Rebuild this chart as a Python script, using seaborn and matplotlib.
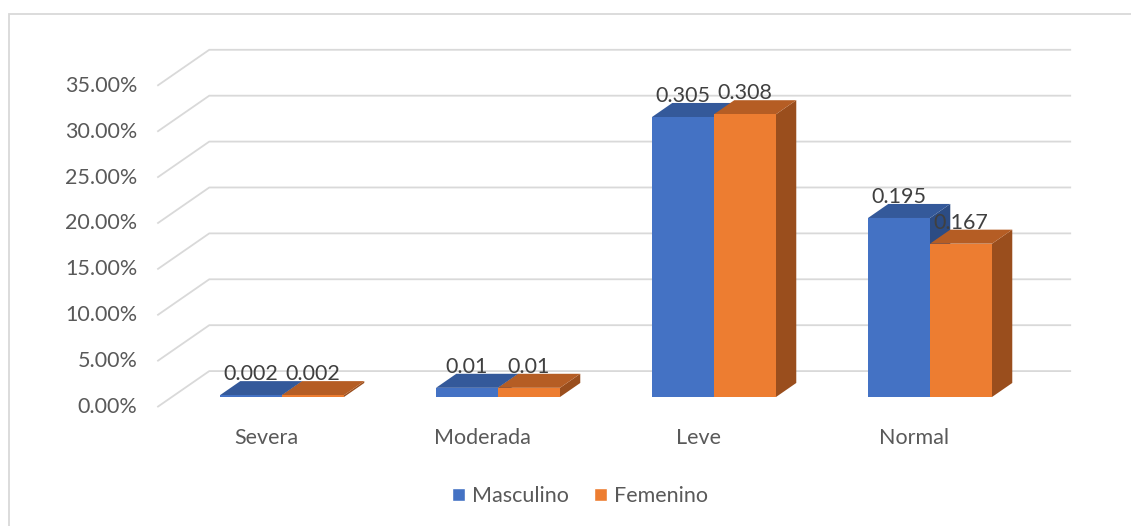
import numpy as np
import pandas as pd
import matplotlib
matplotlib.use("Agg")
import matplotlib.pyplot as plt
from matplotlib.patches import Polygon, Patch, Rectangle
import seaborn as sns

# ---- data -------------------------------------------------------------
categorias = ["Severa", "Moderada", "Leve", "Normal"]
masculino = [0.002, 0.01, 0.305, 0.195]
femenino = [0.002, 0.01, 0.308, 0.167]
series = ["Masculino", "Femenino"]
y_ticks = [0.0, 0.05, 0.10, 0.15, 0.20, 0.25, 0.30, 0.35]

# ---- style ------------------------------------------------------------
sns.set_style("white")
plt.rcParams["font.family"] = ["Lato", "DejaVu Sans"]

BLUE, ORANGE = "#4472C4", "#ED7D31"
TOP = {BLUE: "#34599A", ORANGE: "#B55D24"}
SIDE = {BLUE: "#2C4C84", ORANGE: "#9A4E1D"}
GRID = "#D9D9D9"
AXIS_TXT = "#595959"
LABEL_TXT = "#404040"
FS = 15.5

W, H = 1131, 526
fig = plt.figure(figsize=(W / 100, H / 100), dpi=100)
ax = fig.add_axes([150 / W, (H - 425) / H, 935 / W, 395 / H])

df = pd.DataFrame({
    "categoria": categorias * 2,
    "sexo": [series[0]] * len(categorias) + [series[1]] * len(categorias),
    "valor": masculino + femenino,
})

sns.barplot(data=df, x="categoria", y="valor", hue="sexo",
            palette=[BLUE, ORANGE], saturation=1, width=0.574,
            linewidth=0, legend=False, ax=ax)

ax.set_xlim((150 - 282) / 216, (1085 - 282) / 216)
ax.set_ylim((397 - 425) / 918, (397 - 30) / 918)
ax.set_axis_off()


def px_vec(dx, dy):
    """Convert a screen-space offset (pixels, y up) into data units."""
    inv = ax.transData.inverted()
    a = inv.transform((0, 0))
    b = inv.transform((dx, dy))
    return b - a


# oblique depth of the whole floor and of the bars
full = px_vec(52, 36)
front_frac, bar_frac = 0.28, 0.39
front_vec = -front_frac * full
back_vec = (1 - front_frac) * full
bar_vec = bar_frac * full

wall_left = -0.51
grid_right = 3.48

# ---- walls: gridlines and value axis labels --------------------------
for v in y_ticks:
    p_front = np.array([wall_left, v]) + front_vec
    p_back = np.array([wall_left, v]) + back_vec
    p_right = np.array([grid_right, v]) + back_vec
    ax.plot([p_front[0], p_back[0], p_right[0]],
            [p_front[1], p_back[1], p_right[1]],
            color=GRID, lw=1.3, zorder=1, solid_capstyle="butt",
            clip_on=False)
    ax.annotate(f"{v * 100:.2f}%", xy=p_front, xytext=(-20, 0),
                textcoords="offset pixels", ha="right", va="center",
                fontsize=FS, color=AXIS_TXT, annotation_clip=False)

# ---- 3D faces of the bars --------------------------------------------
bars = []
for cont in ax.containers:
    for rect in cont:
        bars.append(rect)
bars.sort(key=lambda r: r.get_x())

for k, rect in enumerate(bars):
    x0, w, h = rect.get_x(), rect.get_width(), rect.get_height()
    col = matplotlib.colors.to_hex(rect.get_facecolor())
    col = BLUE if col.lower() == BLUE.lower() else ORANGE
    dx, dy = bar_vec
    z = 3 + k * 0.01
    side = Polygon([(x0 + w, 0), (x0 + w + dx, dy),
                    (x0 + w + dx, h + dy), (x0 + w, h)],
                   closed=True, facecolor=SIDE[col], edgecolor="none",
                   zorder=z)
    top = Polygon([(x0, h), (x0 + w, h), (x0 + w + dx, h + dy),
                   (x0 + dx, h + dy)],
                  closed=True, facecolor=TOP[col], edgecolor="none",
                  zorder=z + 0.001)
    ax.add_patch(side)
    ax.add_patch(top)
    rect.set_zorder(z + 0.002)
    ax.annotate(f"{h:g}", xy=(x0 + w / 2, h), xytext=(0, 21),
                textcoords="offset pixels", ha="center", va="center",
                fontsize=FS, color=LABEL_TXT, zorder=10,
                annotation_clip=False)

# ---- category labels --------------------------------------------------
for i, c in enumerate(categorias):
    ax.annotate(c, xy=(i, 0), xytext=(-16, -41), textcoords="offset pixels",
                ha="center", va="center", fontsize=FS, color=AXIS_TXT,
                annotation_clip=False)

# ---- legend -----------------------------------------------------------
handles = [Patch(facecolor=BLUE, label=series[0]),
           Patch(facecolor=ORANGE, label=series[1])]
fig.legend(handles=handles, loc="center", ncol=2, frameon=False,
           bbox_to_anchor=(580 / W, 1 - 496 / H), fontsize=FS,
           labelcolor=AXIS_TXT, handlelength=0.6, handleheight=0.6,
           handletextpad=0.33, columnspacing=1.2)

# ---- chart frame ------------------------------------------------------
fig.add_artist(Rectangle((9 / W, -0.1), 1.2, (H - 14) / H + 0.1,
                         transform=fig.transFigure, fill=False,
                         edgecolor=GRID, lw=1.3))

fig.savefig("out.png", dpi=100, facecolor="white")
